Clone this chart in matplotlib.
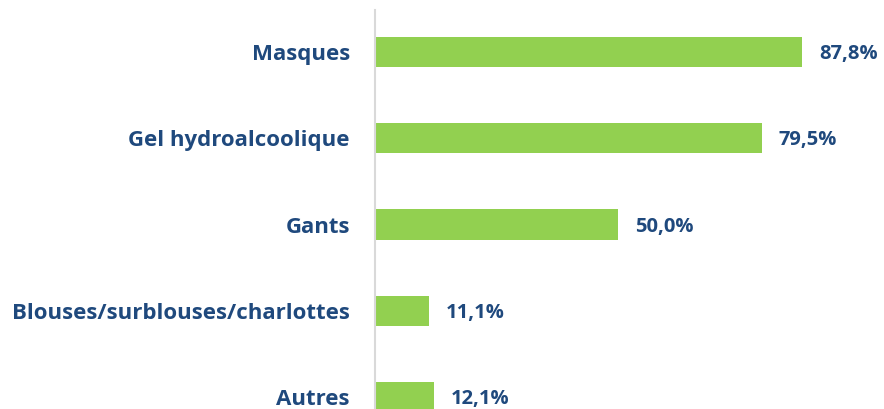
import matplotlib
matplotlib.use("Agg")
import matplotlib.pyplot as plt

categories = ["Masques", "Gel hydroalcoolique", "Gants", "Blouses/surblouses/charlottes", "Autres"]
values = [87.8, 79.5, 50.0, 11.1, 12.1]
value_labels = ["87,8%", "79,5%", "50,0%", "11,1%", "12,1%"]

bar_color = "#92D050"
text_color = "#1F497D"
font = "Open Sans"

fig = plt.figure(figsize=(8.84, 4.09), dpi=100)
ax = fig.add_axes([375/884, 0, 486.3/884, 399/409])

ypos = list(range(len(categories)))
ax.barh(ypos, values, height=0.35, color=bar_color)
ax.set_xlim(0, 100)
ax.set_ylim(4.139, -0.487)

ax.set_yticks(ypos)
ax.set_yticklabels(categories, fontsize=16, fontweight="bold", color=text_color, family=font)
ax.tick_params(axis="y", length=0, pad=18)
ax.set_xticks([])

for y, v, lab in zip(ypos, values, value_labels):
    ax.text(v + 3.5, y + 0.025, lab, va="center", ha="left", fontsize=14.5, fontweight="bold",
            color=text_color, family=font, clip_on=False)

for s in ["top", "right", "bottom"]:
    ax.spines[s].set_visible(False)
ax.spines["left"].set_color("#D9D9D9")
ax.spines["left"].set_linewidth(1.5)

fig.savefig("out.png", dpi=100)
